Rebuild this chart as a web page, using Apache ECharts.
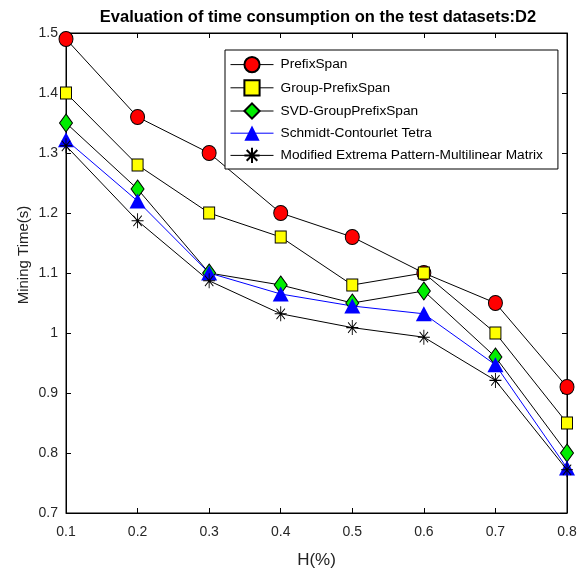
<!DOCTYPE html>
<html><head><meta charset="utf-8">
<script src="https://cdn.jsdelivr.net/npm/echarts@6/dist/echarts.min.js"></script>
<style>html,body{margin:0;padding:0;background:#fff}#c{width:585px;height:577px}</style>
</head><body><div id="c"></div>
<script>
const categories = ['0.1','0.2','0.3','0.4','0.5','0.6','0.7','0.8'];
const prefixSpan = [1.49, 1.36, 1.30, 1.20, 1.16, 1.10, 1.05, 0.91];
const groupPrefixSpan = [1.40, 1.28, 1.20, 1.16, 1.08, 1.10, 1.00, 0.85];
const svdGroupPrefixSpan = [1.35, 1.24, 1.10, 1.08, 1.05, 1.07, 0.96, 0.80];
const schmidtTetra = [1.322, 1.22, 1.10, 1.065, 1.045, 1.032, 0.947, 0.775];
const modifiedExtrema = [1.312, 1.187, 1.087, 1.032, 1.009, 0.993, 0.921, 0.772];
const seriesNames = ['PrefixSpan','Group-PrefixSpan','SVD-GroupPrefixSpan','Schmidt-Contourlet Tetra','Modified Extrema Pattern-Multilinear Matrix'];

const FONT = 'Liberation Sans, Arial, sans-serif';
const asterisk = 'path://M10 0L10 20M0 10L20 10M3 3L17 17M17 3L3 17';

const chart = echarts.init(document.getElementById('c'));
const base = {type:'line', showSymbol:true, lineStyle:{width:1, color:'#000'}, emphasis:{disabled:true}, z:2};
chart.setOption({
  animation:false,
  backgroundColor:'#fff',
  title:{text:'Evaluation of time consumption on the test datasets:D2', left:313, textAlign:'center', top:4,
    textStyle:{fontFamily:FONT, fontSize:16.5, fontWeight:'bold', color:'#000'}},
  grid:{left:66, right:18, top:33, bottom:64, show:true, borderColor:'#000', borderWidth:1},
  legend:{orient:'vertical', left:225, top:50, padding:[6,15,5,5], itemGap:6, itemWidth:43, itemHeight:19,
    backgroundColor:'#fff', borderColor:'#000', borderWidth:1, data:seriesNames,
    lineStyle:{width:1},
    textStyle:{fontFamily:FONT, fontSize:13.7, color:'#000', padding:[0,0,0,2]}},
  graphic:[{type:'text', x:24, y:255, rotation:Math.PI/2,
    style:{text:'Mining Time(s)', font:'15px Liberation Sans, Arial, sans-serif', fill:'#222', textAlign:'center', textVerticalAlign:'middle'}}],
  xAxis:[{type:'category', data:categories, boundaryGap:false,
      name:'H(%)', nameLocation:'middle', nameGap:39, nameTextStyle:{fontFamily:FONT, fontSize:17, color:'#222'},
      axisLine:{lineStyle:{color:'#000'}}, axisTick:{inside:true, length:5, lineStyle:{color:'#000'}},
      axisLabel:{fontFamily:FONT, fontSize:14, color:'#262626', margin:12}, splitLine:{show:false}},
    {type:'category', data:categories, boundaryGap:false, position:'top',
      axisLine:{lineStyle:{color:'#000'}}, axisTick:{inside:true, length:5, lineStyle:{color:'#000'}},
      axisLabel:{show:false}, splitLine:{show:false}}],
  yAxis:[{type:'value', min:0.7, max:1.5, interval:0.1,
      axisLine:{show:true, lineStyle:{color:'#000'}}, axisTick:{show:true, inside:true, length:5, lineStyle:{color:'#000'}},
      axisLabel:{fontFamily:FONT, fontSize:14, color:'#262626', margin:8, formatter:v=>String(Math.round(v*10)/10)}, splitLine:{show:false}},
    {type:'value', min:0.7, max:1.5, interval:0.1, position:'right',
      axisLine:{show:true, lineStyle:{color:'#000'}}, axisTick:{show:true, inside:true, length:5, lineStyle:{color:'#000'}},
      axisLabel:{show:false}, splitLine:{show:false}}],
  series:[
    Object.assign({}, base, {name:seriesNames[0], data:prefixSpan, symbol:'circle', symbolSize:[14,15],
      itemStyle:{color:'#ff0000', borderColor:'#000', borderWidth:1}}),
    Object.assign({}, base, {name:seriesNames[1], data:groupPrefixSpan, symbol:'rect', symbolSize:[11,12],
      itemStyle:{color:'#ffff00', borderColor:'#000', borderWidth:1}}),
    Object.assign({}, base, {name:seriesNames[2], data:svdGroupPrefixSpan, symbol:'diamond', symbolSize:[13,18],
      itemStyle:{color:'#00ee00', borderColor:'#000', borderWidth:1}}),
    Object.assign({}, base, {name:seriesNames[3], data:schmidtTetra, symbol:'triangle', symbolSize:[16,15],
      lineStyle:{width:1, color:'#0000ff'}, itemStyle:{color:'#0000ff', borderColor:'#0000ff', borderWidth:0}}),
    Object.assign({}, base, {name:seriesNames[4], data:modifiedExtrema, symbol:asterisk, symbolSize:[12,15],
      itemStyle:{color:'rgba(0,0,0,0)', borderColor:'#000', borderWidth:1}})
  ]
});
</script></body></html>
